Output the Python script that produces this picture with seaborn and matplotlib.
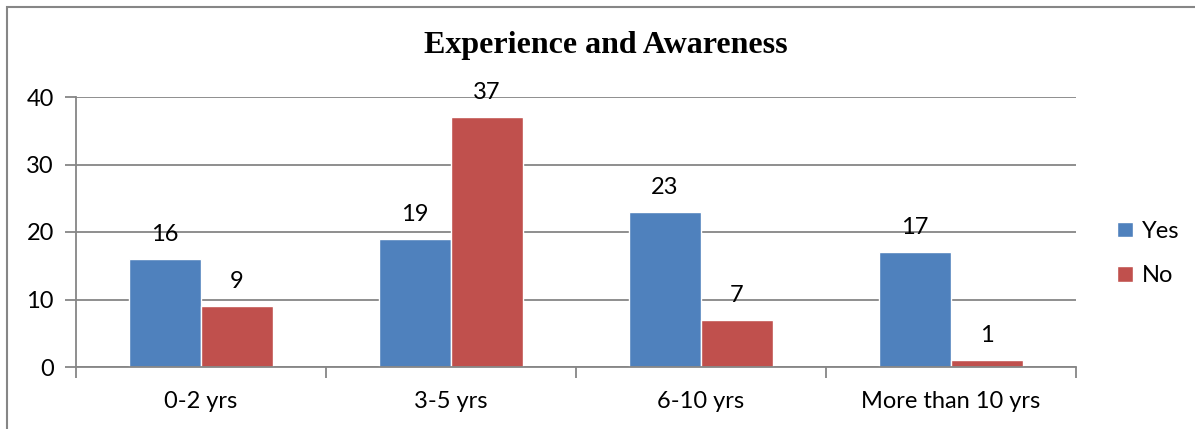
import pandas as pd
import numpy as np
from matplotlib import pyplot as plt
from matplotlib.patches import Rectangle
import seaborn as sns

# data
categories = ["0-2 yrs", "3-5 yrs", "6-10 yrs", "More than 10 yrs"]
yes_vals = [16, 19, 23, 17]
no_vals = [9, 37, 7, 1]
series = ["Yes", "No"]
colors = ["#4F81BD", "#C0504D"]

df = pd.DataFrame({
    "experience": categories * 2,
    "count": yes_vals + no_vals,
    "answer": ["Yes"] * len(categories) + ["No"] * len(categories),
})

sns.set_style("white")
plt.rcParams["font.family"] = ["Lato", "DejaVu Sans"]
plt.rcParams["text.color"] = "black"
plt.rcParams["xtick.labelcolor"] = "black"
plt.rcParams["ytick.labelcolor"] = "black"

fig = plt.figure(figsize=(11.95, 4.29), dpi=100)
ax = fig.add_axes([76 / 1195, 1 - 367 / 429, 1000 / 1195, 270 / 429])

sns.barplot(data=df, x="experience", y="count", hue="answer", hue_order=series,
            palette=colors, width=0.576, saturation=1, ax=ax, legend=True)

# data labels
for cont in ax.containers:
    ax.bar_label(cont, padding=10, fontsize=17, color="black")

ax.set_ylim(0, 40)
ax.set_xlim(-0.5, len(categories) - 0.5)
ax.set_yticks([0, 10, 20, 30, 40])
ax.yaxis.grid(True, color="#868686", linewidth=1.3)
ax.set_axisbelow(True)
ax.set_xlabel("")
ax.set_ylabel("")
ax.tick_params(axis="y", labelsize=17, length=8, width=1.3, color="#868686",
               labelcolor="black", left=True, pad=8)
ax.tick_params(axis="x", labelsize=17, length=0, pad=17, labelcolor="black")
# category boundary ticks
ax.set_xticks(np.arange(-0.5, len(categories)), minor=True)
ax.tick_params(axis="x", which="minor", length=8, width=1.3, color="#868686", bottom=True)

for s in ["top", "right"]:
    ax.spines[s].set_visible(False)
for s in ["left", "bottom"]:
    ax.spines[s].set_color("#868686")
    ax.spines[s].set_linewidth(1.3)

# title sits centred on the whole chart frame, not the plot area
fig.text(606 / 1195, 1 - 46 / 429, "Experience and Awareness", fontsize=23,
         fontweight="bold", family="Liberation Serif", ha="center", va="center",
         color="black")

leg = ax.legend(loc="center left", bbox_to_anchor=(1.02, 0.42), frameon=False,
                fontsize=17, handlelength=0.65, handleheight=0.65, handletextpad=0.4,
                labelspacing=1.0)
for t in leg.get_texts():
    t.set_color("black")

# outer chart frame
fig.patches.append(Rectangle((7 / 1195, -0.1), 1.2, 1 - 7 / 429 + 0.1,
                             transform=fig.transFigure, fill=False,
                             edgecolor="#868686", linewidth=1.5))

fig.savefig("out.png", dpi=100)
